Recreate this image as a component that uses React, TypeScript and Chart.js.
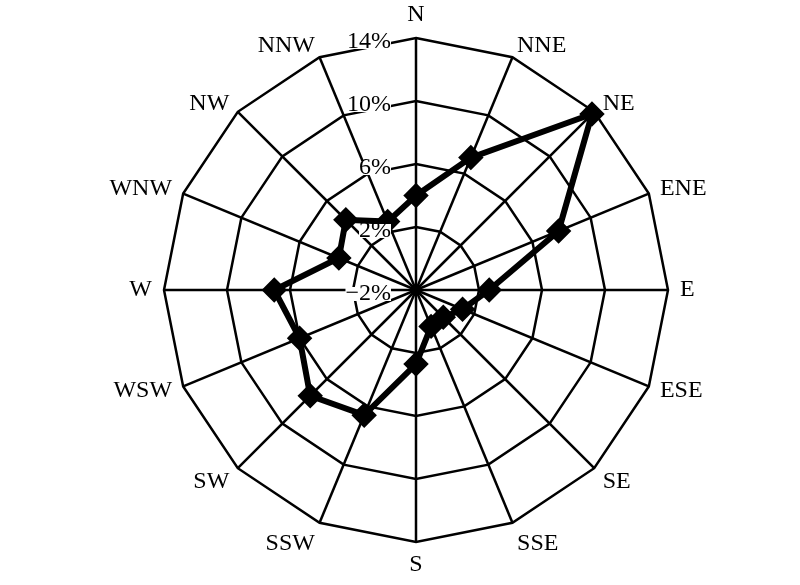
import React, { useEffect, useRef } from "react";
import { Chart, registerables } from "chart.js";

Chart.register(...registerables);

const directions = ["N", "NNE", "NE", "ENE", "E", "ESE", "SE", "SSE", "S", "SSW", "SW", "WSW", "W", "WNW", "NW", "NNW"];
const frequency = [4.0, 7.1, 13.8, 7.8, 2.65, 1.2, 0.45, 0.5, 2.7, 6.6, 7.5, 6.0, 7.0, 3.3, 4.3, 2.7];
const tickValues = [-2, 2, 6, 10, 14];
const tickLabels = ["\u22122%", "2%", "6%", "10%", "14%"];

const FONT = "'Liberation Serif', 'Times New Roman', serif";

const labelPlugin = {
  id: "labelPlugin",
  afterDatasetsDraw(chart: any) {
    const scale = chart.scales.r;
    const ctx = chart.ctx;
    ctx.save();
    ctx.font = `24px ${FONT}`;
    // tick labels with white backdrop
    ctx.textAlign = "right";
    ctx.textBaseline = "middle";
    tickValues.forEach((v, i) => {
      const y = scale.yCenter - scale.getDistanceFromCenterForValue(v) + 4;
      const x = scale.xCenter - 25;
      const text = tickLabels[i];
      const w = ctx.measureText(text).width;
      ctx.fillStyle = "#ffffff";
      ctx.fillRect(x - w, y - 7, w, 14);
      ctx.fillStyle = "#000000";
      ctx.fillText(text, x, y);
    });
    // direction labels
    directions.forEach((name, i) => {
      const theta = scale.getIndexAngle(i);
      const s = Math.sin(theta);
      const c = Math.cos(theta);
      const p = scale.getPointPosition(i, scale.drawingArea + 12);
      let dy = 0;
      if (c > 0.95) dy = -11;
      else if (c < -0.5) dy = 11 * (-c - 0.5) / 0.5;
      ctx.textAlign = s > 0.05 ? "left" : s < -0.05 ? "right" : "center";
      ctx.textBaseline = "middle";
      ctx.fillStyle = "#000000";
      ctx.fillText(name, p.x, p.y + dy);
    });
    ctx.restore();
  },
};

export default function App() {
  const canvasRef = useRef<HTMLCanvasElement>(null);

  useEffect(() => {
    const canvas = canvasRef.current;
    if (!canvas) return;
    const chart = new Chart(canvas, {
      type: "radar",
      data: {
        labels: directions,
        datasets: [
          {
            label: "Frequency",
            data: frequency,
            borderColor: "#000000",
            backgroundColor: "#000000",
            borderWidth: 6,
            fill: false,
            pointStyle: "rectRot",
            pointRadius: 8.5,
            pointBackgroundColor: "#000000",
            pointBorderColor: "#000000",
            tension: 0,
          },
        ],
      },
      options: {
        responsive: false,
        animation: false,
        maintainAspectRatio: false,
        layout: { padding: { top: 38, bottom: 43, left: 32, right: 0 } },
        plugins: {
          legend: { display: false },
          tooltip: { enabled: false },
        },
        scales: {
          r: {
            min: -2,
            max: 14,
            ticks: { stepSize: 4, display: false },
            grid: { color: "#000000", lineWidth: 2.5, circular: false },
            angleLines: { color: "#000000", lineWidth: 2.5 },
            pointLabels: { display: false },
          },
        },
      },
      plugins: [labelPlugin],
    });
    return () => chart.destroy();
  }, []);

  return (
    <div style={{ position: "fixed", left: 0, top: 0, width: 800, height: 585, background: "#ffffff" }}>
      <canvas ref={canvasRef} width={800} height={585} style={{ width: 800, height: 585, display: "block" }} />
    </div>
  );
}
